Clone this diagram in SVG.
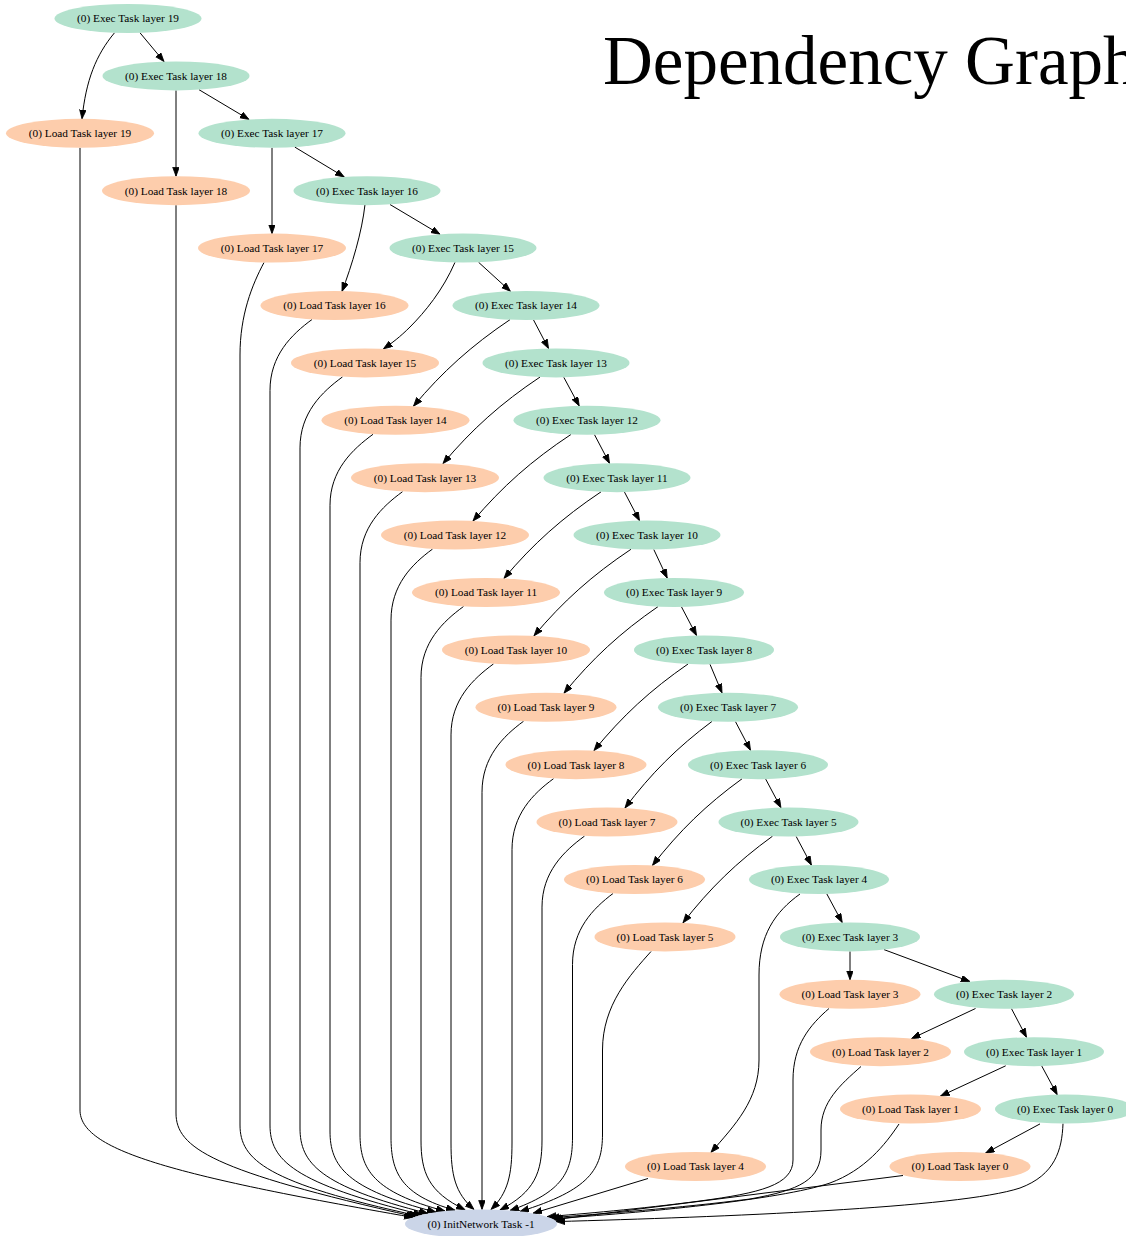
<svg xmlns="http://www.w3.org/2000/svg" width="1126" height="1236" viewBox="0 0 1126 1236">
<style>
  .exec ellipse { fill: #b3e2cd; }
  .load ellipse { fill: #fdcdac; }
  .init ellipse { fill: #cbd5e8; }
  .node text { font-family: "Liberation Serif", "Times New Roman", serif; font-size: 11.3px; fill: #000; text-anchor: middle; }
  #edges path { fill: none; stroke: #000; stroke-width: 1; marker-end: url(#arrow); }
  .title { font-family: "Liberation Serif", "Times New Roman", serif; font-size: 69px; fill: #000; }
</style>
<defs>
  <marker id="arrow" markerUnits="userSpaceOnUse" markerWidth="10" markerHeight="8" refX="9" refY="3.3" orient="auto">
    <path d="M0,0 L9,3.3 L0,6.6 z" fill="#000" stroke="#000" stroke-width="0.8"/>
  </marker>
</defs>
<rect width="1126" height="1236" fill="#fff"/>

<text class="title" x="603" y="84">Dependency Graph</text>

<g id="edges">
  <!-- exec chain -->
  <path d="M140,32.8 L164,61.6"/>
  <path d="M199,89.7 L249,119.5"/>
  <path d="M294.8,147.1 L344.2,176.9"/>
  <path d="M390,204.5 L440,234.3"/>
  <path d="M478.6,262.3 L510.4,291.3"/>
  <path d="M533.5,319.9 L548.5,348.5"/>
  <path d="M563.8,377.3 L579.2,405.9"/>
  <path d="M594.5,434.7 L609.5,463.3"/>
  <path d="M624.5,492.1 L639.5,520.7"/>
  <path d="M653.8,549.5 L667.2,578.1"/>
  <path d="M681.5,606.9 L696.5,635.5"/>
  <path d="M710,664.3 L722,692.9"/>
  <path d="M735.5,721.7 L750.5,750.3"/>
  <path d="M765.7,779.1 L780.9,807.7"/>
  <path d="M796.2,836.5 L811.4,865.1"/>
  <path d="M826.8,893.9 L842.2,922.5"/>
  <path d="M884,949.6 L970,981.6"/>
  <path d="M1011.5,1008.7 L1026.5,1037.3"/>
  <path d="M1041.8,1066.1 L1057.2,1094.7"/>

  <!-- exec to load -->
  <path d="M114.5,32.8 C96,55 86,80 82,118.8"/>
  <path d="M176,90.4 L176,176.2"/>
  <path d="M272,147.8 L272,233.6"/>
  <path d="M365,204.5 C362,232 352,265 342,291.4"/>
  <path d="M455,262.3 C443,290 425,312 410,327 C400,337 392,343 383.5,348.8"/>
  <path d="M510,319.65 C471.4,345.6 442.5,371.6 413.5,406.2"/>
  <path d="M540,377.05 C501.2,403 472.1,429 443,463.6"/>
  <path d="M571,434.45 C531.8,460.4 502.4,486.4 473,521"/>
  <path d="M601,491.85 C562.2,517.8 533.1,543.8 504,578.4"/>
  <path d="M631,549.25 C592.2,575.2 563.1,601.2 534,635.8"/>
  <path d="M658,606.6 C620.4,632.6 592.2,658.6 564,693.2"/>
  <path d="M688,664 C650.4,690 622.2,716 594,750.6"/>
  <path d="M712,721.4 C677.2,747.4 651.1,773.4 625,808"/>
  <path d="M742,778.8 C706.2,804.8 679.4,830.8 652.5,865.4"/>
  <path d="M772.5,836.2 C736.7,862.2 709.9,888.2 683,922.8"/>
  <path d="M800,894 C775,912 759,935 759,975 L759,1060 C759,1100 735,1125 711,1152.4"/>
  <path d="M850,951.4 L850,979.8"/>
  <path d="M975.5,1008.5 L911.5,1038.6"/>
  <path d="M1005.7,1065.8 L940.5,1096.1"/>
  <path d="M1040,1123.9 L985.5,1153.2"/>

  <!-- everything into init network -->
  <path d="M80,147.8 L80,1110 C80,1150 170,1175 413,1217.4"/>
  <path d="M176,205.2 L176,1113 C176,1148 211.9,1171 415,1216.7"/>
  <path d="M264,262.5 C252,285 240,315 240,355 L240,1125 C240,1160 266.7,1183 418,1215.8"/>
  <path d="M312,319.5 C291.5,334.5 270,355.5 270,390.5 L270,1125 C270,1160 292.8,1183 422,1214.8"/>
  <path d="M342.5,376.9 C322,391.9 300,412.9 300,447.9 L300,1128 C300,1163 319.2,1186 428,1213.5"/>
  <path d="M373,434.3 C352.5,449.3 330,470.3 330,505.3 L330,1131 C330,1166 345.9,1189 436,1212.2"/>
  <path d="M402.5,491.7 C382,506.7 360,527.7 360,562.7 L360,1134 C360,1169 372.8,1192 445,1211.1"/>
  <path d="M432.5,549.1 C412,564.1 391,585.1 391,620.1 L391,1137 C391,1172 400.6,1195 455,1210.3"/>
  <path d="M463.5,606.5 C443,621.5 421,642.5 421,677.5 L421,1140 C421,1172 428,1192 465,1209.7"/>
  <path d="M493.5,663.9 C473,678.9 451,699.9 451,734.9 L451,1143 C451,1175 455,1193 474,1209.5"/>
  <path d="M523.5,721.3 C503,736.3 482,757.3 482,792.3 L482,1209.4"/>
  <path d="M553.5,778.7 C533,793.7 512,814.7 512,849.7 L512,1143 C512,1175 508,1193 491,1209.5"/>
  <path d="M584.5,836.1 C564,851.1 542,872.1 542,907.1 L542,1140 C542,1172 535,1192 500,1209.9"/>
  <path d="M613,893.5 C593,908.5 572.5,929.5 572.5,964.5 L572.5,1137 C572.5,1172 563,1192 510,1210.5"/>
  <path d="M651,951.5 C630,975 602.5,1005 602.5,1050 L602.5,1134 C602.5,1169 590,1190 520,1211.5"/>
  <path d="M648,1178.5 L533,1213.3"/>
  <path d="M829,1008.5 C810,1025 793,1045 793,1080 L793,1160 C793,1185 760,1193 700,1201 C640,1209 580,1214 547,1216.7"/>
  <path d="M861,1066.5 C840,1085 821,1102 821,1130 L821,1150 C821,1180 800,1190 750,1199 C680,1208 600,1214 550,1217.8"/>
  <path d="M899,1124 C885,1145 865,1170 830,1183 C780,1200 640,1213 552,1218.7"/>
  <path d="M903,1175.5 L554,1219.8"/>
  <path d="M1063,1123.6 C1062,1150 1055,1175 1020,1188 C960,1208 720,1217 556,1221.6"/>
</g>

<g id="nodes">
  <g id="exec19" class="node exec"><ellipse cx="128" cy="18.5" rx="73.5" ry="14.5"/><text x="128" y="22.4">(0) Exec Task layer 19</text></g>
  <g id="exec18" class="node exec"><ellipse cx="176" cy="75.9" rx="73.5" ry="14.5"/><text x="176" y="79.8">(0) Exec Task layer 18</text></g>
  <g id="exec17" class="node exec"><ellipse cx="272" cy="133.3" rx="73.5" ry="14.5"/><text x="272" y="137.2">(0) Exec Task layer 17</text></g>
  <g id="exec16" class="node exec"><ellipse cx="367" cy="190.7" rx="73.5" ry="14.5"/><text x="367" y="194.6">(0) Exec Task layer 16</text></g>
  <g id="exec15" class="node exec"><ellipse cx="463" cy="248.1" rx="73.5" ry="14.5"/><text x="463" y="252">(0) Exec Task layer 15</text></g>
  <g id="exec14" class="node exec"><ellipse cx="526" cy="305.5" rx="73.5" ry="14.5"/><text x="526" y="309.4">(0) Exec Task layer 14</text></g>
  <g id="exec13" class="node exec"><ellipse cx="556" cy="362.9" rx="73.5" ry="14.5"/><text x="556" y="366.8">(0) Exec Task layer 13</text></g>
  <g id="exec12" class="node exec"><ellipse cx="587" cy="420.3" rx="73.5" ry="14.5"/><text x="587" y="424.2">(0) Exec Task layer 12</text></g>
  <g id="exec11" class="node exec"><ellipse cx="617" cy="477.7" rx="73.5" ry="14.5"/><text x="617" y="481.6">(0) Exec Task layer 11</text></g>
  <g id="exec10" class="node exec"><ellipse cx="647" cy="535.1" rx="73.5" ry="14.5"/><text x="647" y="539">(0) Exec Task layer 10</text></g>
  <g id="exec9" class="node exec"><ellipse cx="674" cy="592.5" rx="70" ry="14.5"/><text x="674" y="596.4">(0) Exec Task layer 9</text></g>
  <g id="exec8" class="node exec"><ellipse cx="704" cy="649.9" rx="70" ry="14.5"/><text x="704" y="653.8">(0) Exec Task layer 8</text></g>
  <g id="exec7" class="node exec"><ellipse cx="728" cy="707.3" rx="70" ry="14.5"/><text x="728" y="711.2">(0) Exec Task layer 7</text></g>
  <g id="exec6" class="node exec"><ellipse cx="758" cy="764.7" rx="70" ry="14.5"/><text x="758" y="768.6">(0) Exec Task layer 6</text></g>
  <g id="exec5" class="node exec"><ellipse cx="788.5" cy="822.1" rx="70" ry="14.5"/><text x="788.5" y="826">(0) Exec Task layer 5</text></g>
  <g id="exec4" class="node exec"><ellipse cx="819" cy="879.5" rx="70" ry="14.5"/><text x="819" y="883.4">(0) Exec Task layer 4</text></g>
  <g id="exec3" class="node exec"><ellipse cx="850" cy="936.9" rx="70" ry="14.5"/><text x="850" y="940.8">(0) Exec Task layer 3</text></g>
  <g id="exec2" class="node exec"><ellipse cx="1004" cy="994.3" rx="70" ry="14.5"/><text x="1004" y="998.2">(0) Exec Task layer 2</text></g>
  <g id="exec1" class="node exec"><ellipse cx="1034" cy="1051.7" rx="70" ry="14.5"/><text x="1034" y="1055.6">(0) Exec Task layer 1</text></g>
  <g id="exec0" class="node exec"><ellipse cx="1065" cy="1109.1" rx="70" ry="14.5"/><text x="1065" y="1113">(0) Exec Task layer 0</text></g>

  <g id="load19" class="node load"><ellipse cx="80" cy="133.3" rx="74" ry="14.5"/><text x="80" y="137.2">(0) Load Task layer 19</text></g>
  <g id="load18" class="node load"><ellipse cx="176" cy="190.7" rx="74" ry="14.5"/><text x="176" y="194.6">(0) Load Task layer 18</text></g>
  <g id="load17" class="node load"><ellipse cx="272" cy="248.1" rx="74" ry="14.5"/><text x="272" y="252">(0) Load Task layer 17</text></g>
  <g id="load16" class="node load"><ellipse cx="334.5" cy="305.5" rx="74" ry="14.5"/><text x="334.5" y="309.4">(0) Load Task layer 16</text></g>
  <g id="load15" class="node load"><ellipse cx="365" cy="362.9" rx="74" ry="14.5"/><text x="365" y="366.8">(0) Load Task layer 15</text></g>
  <g id="load14" class="node load"><ellipse cx="395.5" cy="420.3" rx="74" ry="14.5"/><text x="395.5" y="424.2">(0) Load Task layer 14</text></g>
  <g id="load13" class="node load"><ellipse cx="425" cy="477.7" rx="74" ry="14.5"/><text x="425" y="481.6">(0) Load Task layer 13</text></g>
  <g id="load12" class="node load"><ellipse cx="455" cy="535.1" rx="74" ry="14.5"/><text x="455" y="539">(0) Load Task layer 12</text></g>
  <g id="load11" class="node load"><ellipse cx="486" cy="592.5" rx="74" ry="14.5"/><text x="486" y="596.4">(0) Load Task layer 11</text></g>
  <g id="load10" class="node load"><ellipse cx="516" cy="649.9" rx="74" ry="14.5"/><text x="516" y="653.8">(0) Load Task layer 10</text></g>
  <g id="load9" class="node load"><ellipse cx="546" cy="707.3" rx="70.5" ry="14.5"/><text x="546" y="711.2">(0) Load Task layer 9</text></g>
  <g id="load8" class="node load"><ellipse cx="576" cy="764.7" rx="70.5" ry="14.5"/><text x="576" y="768.6">(0) Load Task layer 8</text></g>
  <g id="load7" class="node load"><ellipse cx="607" cy="822.1" rx="70.5" ry="14.5"/><text x="607" y="826">(0) Load Task layer 7</text></g>
  <g id="load6" class="node load"><ellipse cx="634.5" cy="879.5" rx="70.5" ry="14.5"/><text x="634.5" y="883.4">(0) Load Task layer 6</text></g>
  <g id="load5" class="node load"><ellipse cx="665" cy="936.9" rx="70.5" ry="14.5"/><text x="665" y="940.8">(0) Load Task layer 5</text></g>
  <g id="load4" class="node load"><ellipse cx="695.5" cy="1166.5" rx="70.5" ry="14.5"/><text x="695.5" y="1170.4">(0) Load Task layer 4</text></g>
  <g id="load3" class="node load"><ellipse cx="850" cy="994.3" rx="70.5" ry="14.5"/><text x="850" y="998.2">(0) Load Task layer 3</text></g>
  <g id="load2" class="node load"><ellipse cx="880.5" cy="1051.7" rx="70.5" ry="14.5"/><text x="880.5" y="1055.6">(0) Load Task layer 2</text></g>
  <g id="load1" class="node load"><ellipse cx="910.5" cy="1109.1" rx="70.5" ry="14.5"/><text x="910.5" y="1113">(0) Load Task layer 1</text></g>
  <g id="load0" class="node load"><ellipse cx="960" cy="1166.5" rx="70.5" ry="14.5"/><text x="960" y="1170.4">(0) Load Task layer 0</text></g>

  <g id="initnetwork" class="node init"><ellipse cx="481" cy="1223.9" rx="76" ry="14.5"/><text x="481" y="1227.8">(0) InitNetwork Task -1</text></g>
</g>
</svg>
